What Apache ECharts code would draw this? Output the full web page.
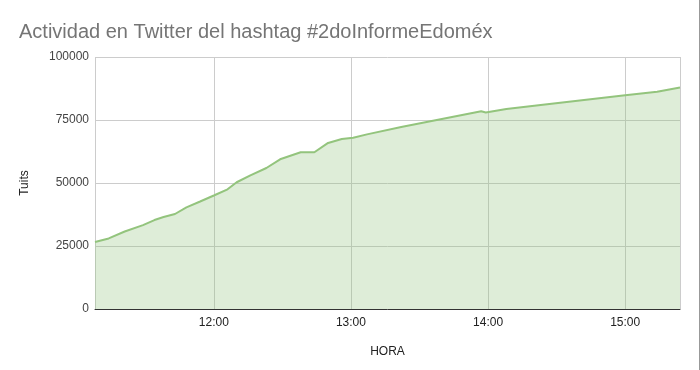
<!DOCTYPE html>
<html>
<head>
<meta charset="utf-8">
<script src="https://cdn.jsdelivr.net/npm/echarts@6/dist/echarts.min.js"></script>
<style>
html,body{margin:0;padding:0;background:#fff;}
#chart{width:700px;height:370px;}
</style>
</head>
<body>
<div id="chart"></div>
<script>
// Times (HH:MM) and tweet counts
var times = ["11:08","11:14","11:21","11:29","11:34","11:38","11:43","11:48","11:54","12:00",
             "12:06","12:10","12:16","12:23","12:29","12:38","12:44","12:50","12:56","13:01",
             "13:07","13:22","13:57","13:59","14:08","14:24","15:00","15:14","15:24"];
var tuits = [26600,28000,30750,33300,35300,36500,37700,40300,42650,45050,
             47500,50300,53050,55950,59400,62200,62200,65900,67450,67950,
             69300,72200,78450,78000,79350,81050,84850,86250,87900];
var yTicks = [0,25000,50000,75000,100000];
var xMin = "11:08", xMax = "15:24";

var FONT = '"Liberation Sans", Arial, sans-serif';
function toDate(s){ var p=s.split(":"); return new Date(2019,8,5,+p[0],+p[1]).getTime(); }
var data = times.map(function(t,i){ return [toDate(t), tuits[i]]; });

var chart = echarts.init(document.getElementById('chart'), null, {renderer:'canvas'});
chart.setOption({
  animation:false,
  backgroundColor:'#fff',
  title:{
    text:'Actividad en Twitter del hashtag #2doInformeEdoméx',
    left:14, top:17,
    textStyle:{fontFamily:FONT, fontSize:20, fontWeight:'normal', color:'#757575'}
  },
  grid:{left:95, right:20, top:57, bottom:61, containLabel:false},
  xAxis:{
    type:'time',
    min:toDate(xMin), max:toDate(xMax),
    minInterval:3600000, maxInterval:3600000,
    name:'HORA', nameLocation:'middle', nameGap:37,
    nameTextStyle:{fontFamily:FONT, fontSize:12, color:'#222'},
    axisLine:{lineStyle:{color:'#333', width:1}},
    axisTick:{show:false},
    axisLabel:{formatter:'{HH}:{mm}', fontFamily:FONT, fontSize:12, color:'#222', margin:8, showMinLabel:false, showMaxLabel:false},
    splitLine:{show:true, lineStyle:{color:'#cccccc', width:1}}
  },
  yAxis:{
    type:'value', min:yTicks[0], max:yTicks[yTicks.length-1], interval:25000,
    name:'Tuits', nameLocation:'middle', nameGap:64, nameRotate:90,
    nameTextStyle:{fontFamily:FONT, fontSize:12, color:'#222'},
    axisLine:{show:false}, axisTick:{show:false},
    axisLabel:{formatter:function(v){return String(v);}, fontFamily:FONT, fontSize:12, color:'#444', margin:6},
    splitLine:{lineStyle:{color:'#cccccc', width:1}}
  },
  series:[{
    type:'line', data:data, showSymbol:false, symbol:'none',
    lineStyle:{color:'#93c47d', width:2},
    areaStyle:{color:'#93c47d', opacity:0.3},
    z:1
  }],
  graphic:[{type:'line', shape:{x1:699.5,y1:0,x2:699.5,y2:370}, style:{stroke:'#999', lineWidth:1}}]
});
</script>
</body>
</html>
